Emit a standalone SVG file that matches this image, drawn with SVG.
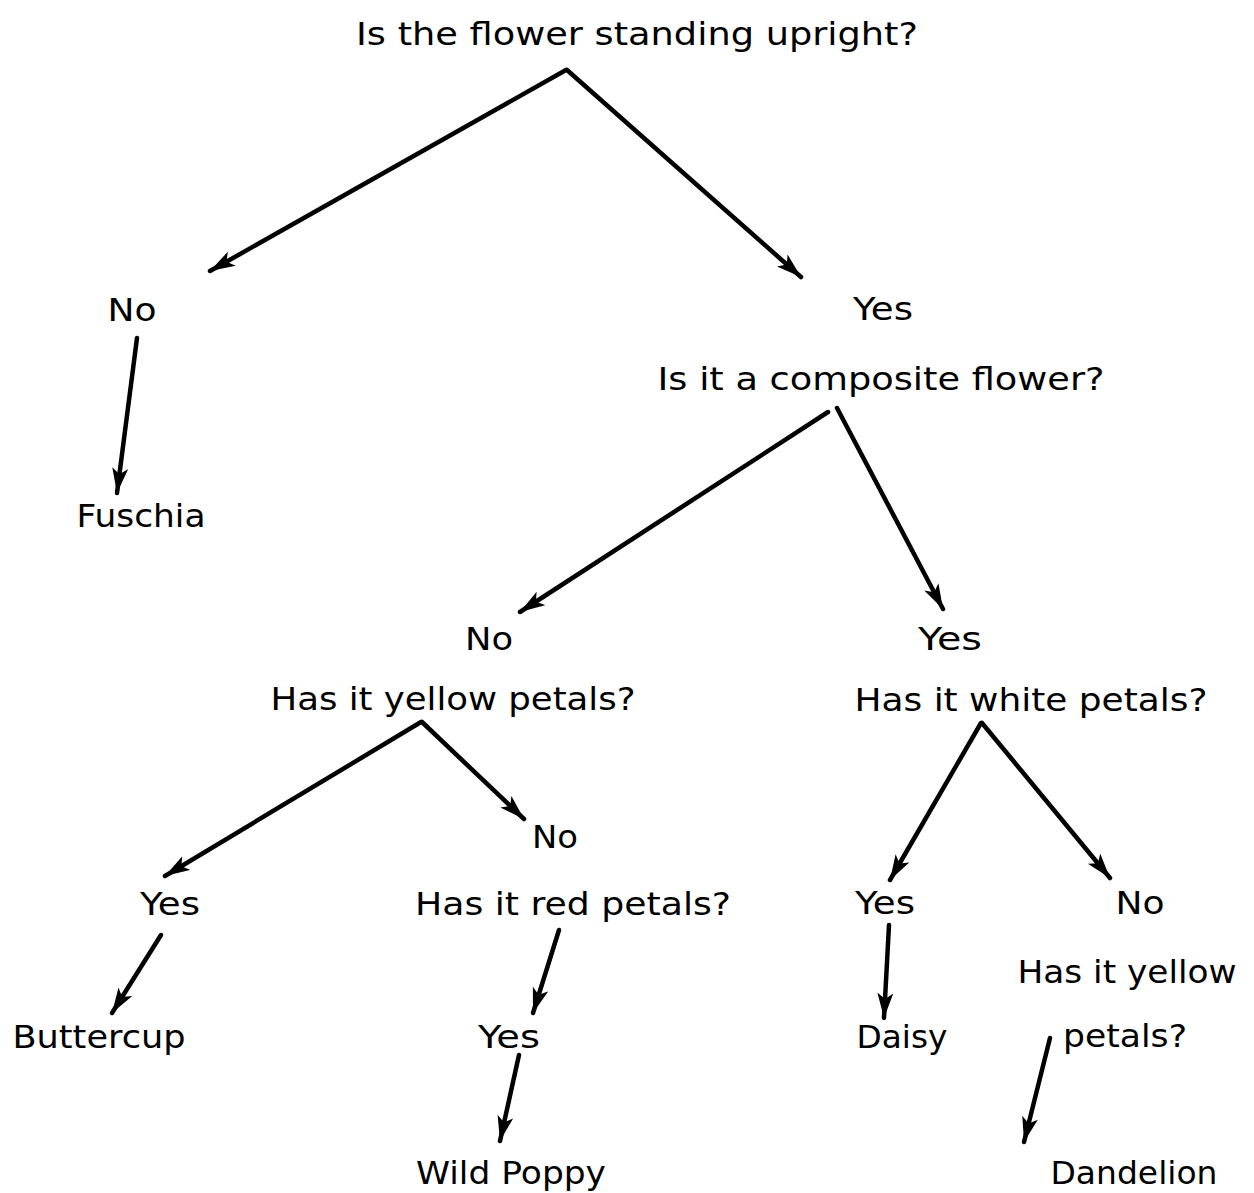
<svg xmlns="http://www.w3.org/2000/svg" width="1254" height="1193" viewBox="0 0 1254 1193">
<style>
text{font-family:"DejaVu Sans","Liberation Sans",sans-serif;font-size:32px;fill:#000;text-anchor:middle}
.c line{stroke:#000;stroke-width:4.5;stroke-linecap:round;marker-end:url(#ah)}
</style>
<defs>
<marker id="ah" markerUnits="userSpaceOnUse" markerWidth="28" markerHeight="18" refX="25" refY="8" orient="auto">
<path d="M0,0 L25,8 L0,16 L6,8 Z" fill="#000"/>
</marker>
</defs>
<rect width="1254" height="1193" fill="#fff"/>
<g id="q1"><text x="637" y="45" textLength="562" lengthAdjust="spacingAndGlyphs">Is the flower standing upright?</text></g>
<g id="no1"><text x="132" y="321" textLength="49" lengthAdjust="spacingAndGlyphs">No</text></g>
<g id="yes1"><text x="883" y="320" textLength="60" lengthAdjust="spacingAndGlyphs">Yes</text></g>
<g id="q2"><text x="881" y="390" textLength="447" lengthAdjust="spacingAndGlyphs">Is it a composite flower?</text></g>
<g id="fuschia"><text x="141" y="527" textLength="129" lengthAdjust="spacingAndGlyphs">Fuschia</text></g>
<g id="no2"><text x="489" y="650" textLength="48" lengthAdjust="spacingAndGlyphs">No</text></g>
<g id="yes2"><text x="950" y="650" textLength="64" lengthAdjust="spacingAndGlyphs">Yes</text></g>
<g id="q3"><text x="453" y="710" textLength="365" lengthAdjust="spacingAndGlyphs">Has it yellow petals?</text></g>
<g id="q4"><text x="1031" y="711" textLength="353" lengthAdjust="spacingAndGlyphs">Has it white petals?</text></g>
<g id="no3"><text x="555" y="848" textLength="46" lengthAdjust="spacingAndGlyphs">No</text></g>
<g id="yes3"><text x="170" y="915" textLength="60" lengthAdjust="spacingAndGlyphs">Yes</text></g>
<g id="q5"><text x="573" y="915" textLength="316" lengthAdjust="spacingAndGlyphs">Has it red petals?</text></g>
<g id="yes4"><text x="885" y="914" textLength="60" lengthAdjust="spacingAndGlyphs">Yes</text></g>
<g id="no4"><text x="1140" y="914" textLength="49" lengthAdjust="spacingAndGlyphs">No</text></g>
<g id="q6"><text x="1127" y="983" textLength="219" lengthAdjust="spacingAndGlyphs">Has it yellow</text><text x="1125" y="1047" textLength="124" lengthAdjust="spacingAndGlyphs">petals?</text></g>
<g id="buttercup"><text x="99" y="1048" textLength="173" lengthAdjust="spacingAndGlyphs">Buttercup</text></g>
<g id="yes5"><text x="509" y="1048" textLength="62" lengthAdjust="spacingAndGlyphs">Yes</text></g>
<g id="daisy"><text x="902" y="1048" textLength="91" lengthAdjust="spacingAndGlyphs">Daisy</text></g>
<g id="poppy"><text x="511" y="1184" textLength="190" lengthAdjust="spacingAndGlyphs">Wild Poppy</text></g>
<g id="dandelion"><text x="1134" y="1184" textLength="167" lengthAdjust="spacingAndGlyphs">Dandelion</text></g>
<g id="connectors" class="c">
<line x1="566" y1="70" x2="210" y2="271"/>
<line x1="567" y1="70" x2="801" y2="277"/>
<line x1="137" y1="338" x2="117" y2="493"/>
<line x1="828" y1="412" x2="520" y2="612"/>
<line x1="837" y1="408" x2="943" y2="609"/>
<line x1="421" y1="722" x2="165" y2="876"/>
<line x1="422" y1="722" x2="524" y2="819"/>
<line x1="981" y1="723" x2="890" y2="880"/>
<line x1="982" y1="723" x2="1110" y2="878"/>
<line x1="161" y1="935" x2="112" y2="1013"/>
<line x1="559" y1="930" x2="533" y2="1013"/>
<line x1="519" y1="1055" x2="500" y2="1141"/>
<line x1="889" y1="925" x2="884" y2="1018"/>
<line x1="1050" y1="1038" x2="1024" y2="1142"/>
</g>
</svg>
